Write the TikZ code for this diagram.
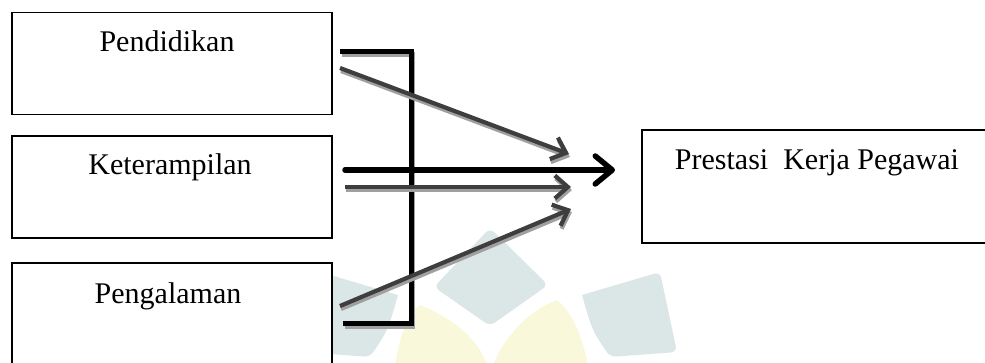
\documentclass[tikz,border=0pt]{standalone}
\usepackage{fontspec}
\setmainfont{Liberation Serif}
\usetikzlibrary{arrows.meta}
\definecolor{wmblue}{RGB}{219,230,231}
\definecolor{wmyellow}{RGB}{250,248,218}
\definecolor{arrgray}{RGB}{62,62,62}
\definecolor{shgray}{RGB}{160,160,160}
\tikzset{
  box/.style={draw, line width=1.6pt, fill=white, inner sep=0pt},
  lbl/.style={font=\fontsize{30}{36}\selectfont, anchor=base, inner sep=0pt},
  boldarr/.style={line width=5.5pt, line cap=round, line join=round, -{Straight Barb[length=17pt,width=28pt,round]}},
  grayarr/.style={line width=4.2pt, draw=arrgray, line join=round, -{Straight Barb[length=13pt,width=23pt]}},
  grayshadow/.style={line width=4.2pt, draw=shgray, line join=round, -{Straight Barb[length=13pt,width=23pt]}},
  bracket/.style={line width=5pt, line join=miter},
  bracketshadow/.style={line width=5pt, draw=shgray, line join=miter},
  wm/.style={fill=wmblue, draw=none, rounded corners=6pt},
  wmy/.style={fill=wmyellow, draw=none}
}
\begin{document}
\begin{tikzpicture}[x=1pt,y=-1pt]
\useasboundingbox (0,0) rectangle (985,363);
\clip (0,0) rectangle (985,363);
% watermark
\fill[wmy] (395,365) .. controls (400,335) and (408,312) .. (420,305)
  .. controls (452,318) and (478,338) .. (487,365) -- cycle;
\fill[wmy] (493,365) .. controls (505,335) and (530,310) .. (557,300)
  .. controls (572,312) and (582,335) .. (588,365) -- cycle;
\fill[wm] (490,228) -- (548,285) -- (490,326) -- (434,287) -- cycle;
\fill[wm] (582,295) -- (660,272) -- (677,352) -- (610,357) [sharp corners] .. controls (592,330) .. (582,295) -- cycle;
\fill[wm] (398,295) -- (320,272) -- (303,352) -- (370,357) [sharp corners] .. controls (388,330) .. (398,295) -- cycle;
% boxes
\node[box, minimum width=320pt, minimum height=102pt] (b1) at (172,63.5) {};
\node[box, minimum width=320pt, minimum height=102pt] (b2) at (172,187) {};
\node[box, minimum width=320pt, minimum height=110pt] (b3) at (172,318) {};
\node[box, minimum width=350pt, minimum height=113pt] (b4) at (817,186.5) {};
\node[lbl] (t1) at (167,52) {Pendidikan};
\node[lbl] (t2) at (170,175) {Keterampilan};
\node[lbl] (t3) at (168,303) {Pengalaman};
\node[lbl] (t4) at (817,170) {Prestasi\ \ Kerja Pegawai};
% connector end points
\coordinate (bt) at (340,52);
\coordinate (bc1) at (411,52);
\coordinate (bc2) at (411,323);
\coordinate (bb) at (343,323);
\coordinate (s1) at (340,68);
\coordinate (e1) at (569,154);
\coordinate (s2) at (345,187);
\coordinate (e2) at (571,187);
\coordinate (s3) at (340,306);
\coordinate (e3) at (571,209);
\coordinate (s0) at (345,170);
\coordinate (e0) at (615,170);
% bracket
\draw[bracketshadow] ([shift={(1.5,3)}]bt) -- ([shift={(1.5,3)}]bc1) -- ([shift={(1.5,3)}]bc2) -- ([shift={(1.5,3)}]bb);
\draw[bracket] (bt) -- (bc1) -- (bc2) -- (bb);
% gray arrows
\draw[grayshadow] ([shift={(1,3)}]s1) -- ([shift={(1,3)}]e1);
\draw[grayshadow] ([shift={(1,3)}]s2) -- ([shift={(1,3)}]e2);
\draw[grayshadow] ([shift={(1,3)}]s3) -- ([shift={(1,3)}]e3);
\draw[grayarr] (s1) -- (e1);
\draw[grayarr] (s2) -- (e2);
\draw[grayarr] (s3) -- (e3);
% bold arrow
\draw[boldarr] (s0) -- (e0);
\end{tikzpicture}
\end{document}
